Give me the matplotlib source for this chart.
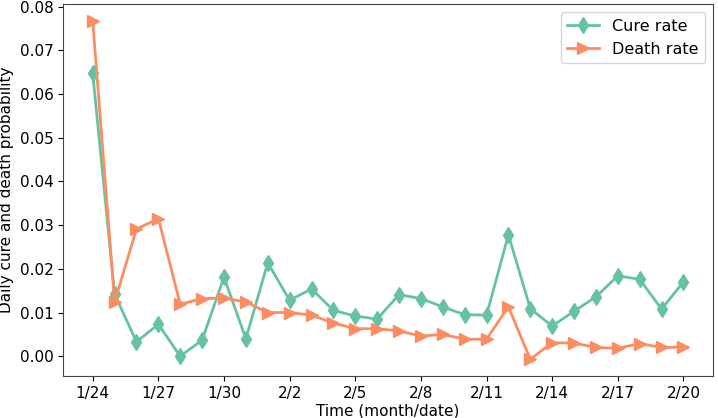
import matplotlib
matplotlib.use("Agg")
import matplotlib.pyplot as plt

dates = ["1/24", "1/25", "1/26", "1/27", "1/28", "1/29", "1/30", "1/31", "2/1", "2/2",
         "2/3", "2/4", "2/5", "2/6", "2/7", "2/8", "2/9", "2/10", "2/11", "2/12",
         "2/13", "2/14", "2/15", "2/16", "2/17", "2/18", "2/19", "2/20"]
cure_rate = [0.0648, 0.0142, 0.0033, 0.0073, 0.0000, 0.0037, 0.0181, 0.0040, 0.0214, 0.0128,
             0.0154, 0.0105, 0.0092, 0.0085, 0.0141, 0.0132, 0.0113, 0.0095, 0.0094, 0.0278,
             0.0109, 0.0069, 0.0103, 0.0136, 0.0184, 0.0176, 0.0108, 0.0170]
death_rate = [0.0767, 0.0124, 0.0291, 0.0315, 0.0119, 0.0132, 0.0133, 0.0124, 0.0100, 0.0100,
              0.0094, 0.0076, 0.0063, 0.0063, 0.0058, 0.0046, 0.0050, 0.0039, 0.0039, 0.0113,
              -0.0007, 0.0031, 0.0030, 0.0020, 0.0018, 0.0029, 0.0020, 0.0021]

plt.rcParams['font.size'] = 11
fig, ax = plt.subplots(figsize=(7.18, 4.18), dpi=100)
x = list(range(len(dates)))
ax.plot(x, cure_rate, color="#66c2a5", marker="d", markersize=8, linewidth=2, label="Cure rate")
ax.plot(x, death_rate, color="#fc8d62", marker=">", markersize=8, linewidth=2, label="Death rate")
ax.set_xticks(x[::3])
ax.set_xticklabels(dates[::3])
ax.set_xlabel("Time (month/date)", labelpad=2)
ax.set_ylabel("Daily cure and death probability")
ax.legend(loc="upper right", fontsize=11.5)
for s in ax.spines.values():
    s.set_color("#444444")
fig.subplots_adjust(left=0.088, right=0.993, top=0.99, bottom=0.1)
fig.savefig("out.png")
